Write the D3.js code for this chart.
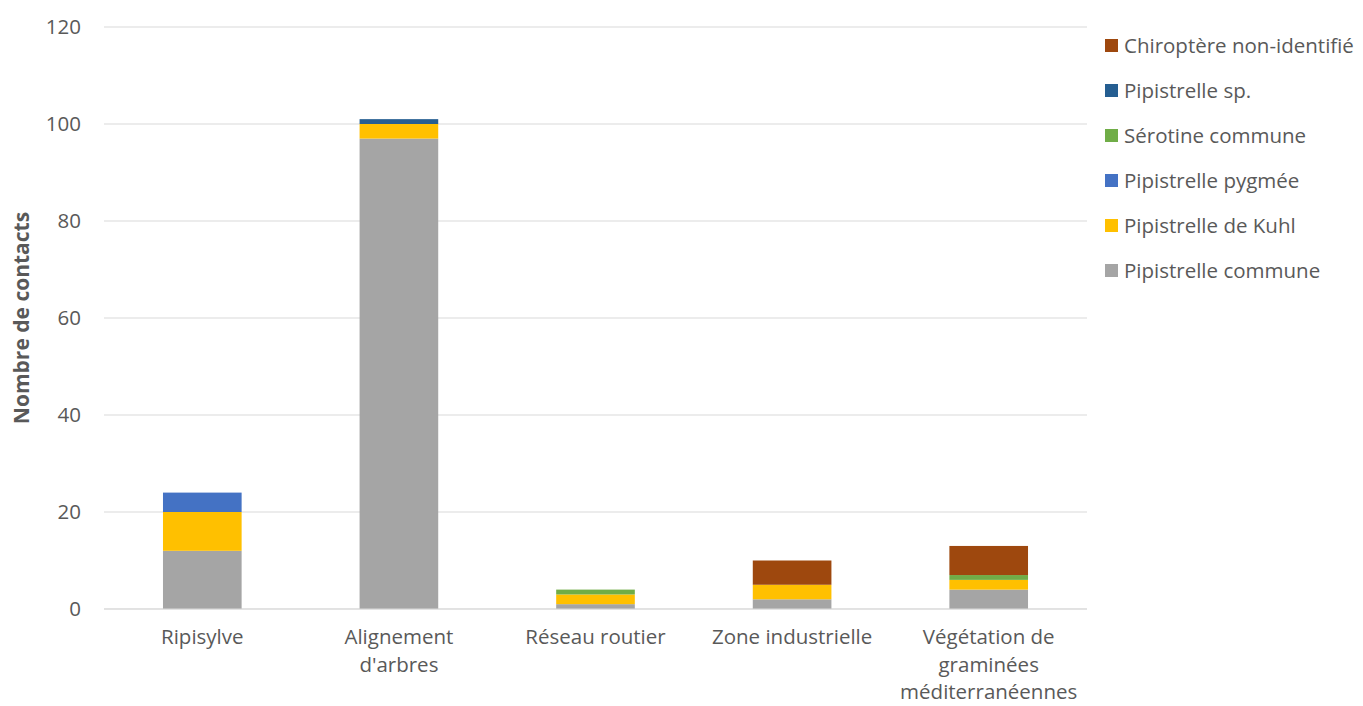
<!DOCTYPE html>
<html>
<head>
<meta charset="utf-8">
<script src="https://cdn.jsdelivr.net/npm/d3@7"></script>
<style>
  html, body { margin: 0; padding: 0; background: #fff; }
  svg { display: block; font-family: "Open Sans", sans-serif; }
</style>
</head>
<body>
<svg id="chart" width="1363" height="706"></svg>
<script>
// Habitat categories (x axis), with manual line breaks
const categories = ["Ripisylve", "Alignement d'arbres", "Réseau routier", "Zone industrielle", "Végétation de graminées méditerranéennes"];
const categoryLines = [["Ripisylve"], ["Alignement", "d'arbres"], ["Réseau routier"], ["Zone industrielle"], ["Végétation de", "graminées", "méditerranéennes"]];

// Species series, stacked bottom to top
const seriesNames = ["Pipistrelle commune", "Pipistrelle de Kuhl", "Pipistrelle pygmée", "Sérotine commune", "Pipistrelle sp.", "Chiroptère non-identifié"];
const seriesColors = ["#a5a5a5", "#ffc000", "#4472c4", "#70ad47", "#255e91", "#9e480e"];

const pipistrelleCommune = [12, 97, 1, 2, 4];
const pipistrelleKuhl    = [8, 3, 2, 3, 2];
const pipistrellePygmee  = [4, 0, 0, 0, 0];
const serotineCommune    = [0, 0, 1, 0, 1];
const pipistrelleSp      = [0, 1, 0, 0, 0];
const chiroptereNonId    = [0, 0, 0, 5, 6];

const yTicks = [0, 20, 40, 60, 80, 100, 120];

const seriesValues = [pipistrelleCommune, pipistrelleKuhl, pipistrellePygmee, serotineCommune, pipistrelleSp, chiroptereNonId];

const rows = categories.map((c, i) => {
  const r = { category: c };
  seriesNames.forEach((s, j) => { r[s] = seriesValues[j][i]; });
  return r;
});

const svg = d3.select("#chart");
const margin = { left: 104, right: 276, top: 27, bottom: 97 };
const W = 1363, H = 706;
const labelSize = "20.5px";

const x = d3.scaleBand()
  .domain(categories)
  .range([margin.left, W - margin.right])
  .paddingInner(0.6)
  .paddingOuter(0.3);

const y = d3.scaleLinear()
  .domain([0, 120])
  .range([H - margin.bottom, margin.top]);

// Horizontal gridlines
svg.append("g")
  .selectAll("line")
  .data(yTicks)
  .join("line")
  .attr("x1", margin.left)
  .attr("x2", W - margin.right)
  .attr("y1", d => y(d))
  .attr("y2", d => y(d))
  .attr("stroke", "#d9d9d9")
  .attr("stroke-width", 1);

// Y tick labels
const yAxis = d3.axisLeft(y).tickValues(yTicks).tickSize(0).tickPadding(23);
const gy = svg.append("g")
  .attr("transform", `translate(${margin.left},0)`)
  .call(yAxis);
gy.select(".domain").remove();
gy.selectAll("text")
  .attr("fill", "#595959")
  .style("font-size", labelSize)
  .style("font-family", "'Open Sans', sans-serif");

// Stacked bars
const stack = d3.stack().keys(seriesNames);
const stacked = stack(rows);

svg.append("g")
  .selectAll("g")
  .data(stacked)
  .join("g")
  .attr("fill", (d, i) => seriesColors[i])
  .selectAll("rect")
  .data(d => d)
  .join("rect")
  .attr("x", d => x(d.data.category))
  .attr("width", x.bandwidth())
  .attr("y", d => y(d[1]))
  .attr("height", d => y(d[0]) - y(d[1]));

// Baseline (axis line)
svg.append("line")
  .attr("x1", margin.left)
  .attr("x2", W - margin.right)
  .attr("y1", y(0))
  .attr("y2", y(0))
  .attr("stroke", "#d9d9d9")
  .attr("stroke-width", 1);

// Category labels
const catG = svg.append("g");
categories.forEach((c, i) => {
  const t = catG.append("text")
    .attr("x", x(c) + x.bandwidth() / 2)
    .attr("y", 644)
    .attr("text-anchor", "middle")
    .attr("fill", "#595959")
    .style("font-size", labelSize);
  categoryLines[i].forEach((line, k) => {
    t.append("tspan")
      .attr("x", x(c) + x.bandwidth() / 2)
      .attr("dy", k === 0 ? 0 : 27.5)
      .text(line);
  });
});

// Y axis title
svg.append("text")
  .attr("transform", `translate(29, ${y(60)}) rotate(-90)`)
  .attr("text-anchor", "middle")
  .attr("fill", "#595959")
  .style("font-size", "21px")
  .style("font-weight", "bold")
  .text("Nombre de contacts");

// Legend (top to bottom: reverse stack order)
const legendItems = seriesNames.map((s, i) => ({ name: s, color: seriesColors[i] })).reverse();
const lg = svg.append("g");
legendItems.forEach((d, i) => {
  const cy = 46 + i * 45;
  lg.append("rect")
    .attr("x", 1105)
    .attr("y", cy - 7)
    .attr("width", 13)
    .attr("height", 13)
    .attr("fill", d.color);
  lg.append("text")
    .attr("x", 1124)
    .attr("y", cy + 7)
    .attr("fill", "#595959")
    .style("font-size", labelSize)
    .text(d.name);
});
</script>
</body>
</html>
